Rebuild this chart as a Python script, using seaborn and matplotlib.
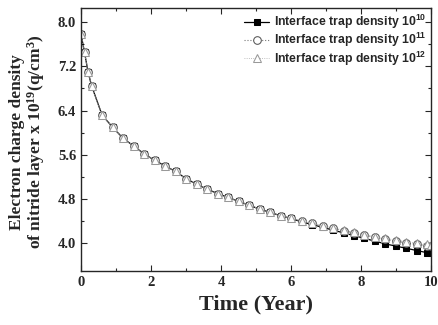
import pandas as pd
import numpy as np
import seaborn as sns
import matplotlib.pyplot as plt

# 데이터
time_year = [0, 0.1, 0.2, 0.3, 0.6, 0.9, 1.2, 1.5, 1.8, 2.1, 2.4, 2.7, 3.0, 3.3,
             3.6, 3.9, 4.2, 4.5, 4.8, 5.1, 5.4, 5.7, 6.0, 6.3, 6.6, 6.9, 7.2,
             7.5, 7.8, 8.1, 8.4, 8.7, 9.0, 9.3, 9.6, 9.9, 10.0]
density_1e10 = [7.78, 7.45, 7.10, 6.85, 6.32, 6.10, 5.90, 5.76, 5.62, 5.50, 5.40,
                5.30, 5.17, 5.07, 4.98, 4.90, 4.83, 4.76, 4.69, 4.62, 4.56, 4.50,
                4.45, 4.39, 4.34, 4.29, 4.24, 4.19, 4.14, 4.09, 4.04, 3.99, 3.95,
                3.91, 3.87, 3.83, 3.82]
density_1e11 = [7.78, 7.45, 7.10, 6.85, 6.32, 6.10, 5.90, 5.76, 5.62, 5.50, 5.40,
                5.30, 5.17, 5.07, 4.98, 4.90, 4.83, 4.76, 4.69, 4.62, 4.56, 4.50,
                4.45, 4.40, 4.36, 4.31, 4.27, 4.23, 4.19, 4.15, 4.11, 4.07, 4.04,
                4.01, 3.98, 3.96, 3.95]
density_1e12 = [7.78, 7.45, 7.10, 6.85, 6.32, 6.10, 5.90, 5.76, 5.62, 5.50, 5.40,
                5.30, 5.17, 5.07, 4.98, 4.90, 4.83, 4.76, 4.69, 4.62, 4.56, 4.50,
                4.46, 4.41, 4.37, 4.32, 4.28, 4.24, 4.20, 4.16, 4.12, 4.09, 4.06,
                4.03, 4.00, 3.98, 3.97]
labels = ['Interface trap density 10$^{10}$',
          'Interface trap density 10$^{11}$',
          'Interface trap density 10$^{12}$']

sns.set_style('ticks')
plt.rcParams['mathtext.default'] = 'regular'

fig = plt.figure(figsize=(4.38, 3.25), dpi=100)
ax = fig.add_axes([0.185, 0.166, 0.799, 0.809])

# 곡선 그리기
sns.lineplot(x=time_year, y=density_1e10, ax=ax, color='black', lw=0.9,
             marker='s', markersize=5, markerfacecolor='black',
             markeredgecolor='black', label=labels[0])
sns.lineplot(x=time_year, y=density_1e11, ax=ax, color='#777777', lw=0.8,
             linestyle=':', marker='o', markersize=5.5, markerfacecolor='white',
             markeredgecolor='#555555', label=labels[1])
sns.lineplot(x=time_year, y=density_1e12, ax=ax, color='#aaaaaa', lw=0.6,
             linestyle=':', marker='^', markersize=5.5, markerfacecolor='white',
             markeredgecolor='#999999', label=labels[2])

ax.set_xlim(0, 10)
ax.set_ylim(3.5, 8.25)
ax.set_xticks([0, 2, 4, 6, 8, 10])
ax.set_xticks([1, 3, 5, 7, 9], minor=True)
ax.set_yticks([4.0, 4.8, 5.6, 6.4, 7.2, 8.0])
ax.set_yticks([4.4, 5.2, 6.0, 6.8, 7.6], minor=True)
ax.set_yticklabels(['4.0', '4.8', '5.6', '6.4', '7.2', '8.0'])
ax.tick_params(which='both', direction='in', top=True, right=True, width=0.8)
ax.tick_params(which='major', length=4)
ax.tick_params(which='minor', length=2)
for lab in ax.get_xticklabels() + ax.get_yticklabels():
    lab.set_fontfamily('Liberation Serif')
    lab.set_fontweight('bold')
    lab.set_fontsize(10.5)
for sp in ax.spines.values():
    sp.set_linewidth(1.0)

ax.set_xlabel('Time (Year)', family='Liberation Serif', weight='bold', fontsize=16)
ax.set_ylabel('Electron charge density\nof nitride layer x 10$^{19}$(q/cm$^{3}$)',
              family='Liberation Serif', weight='bold', fontsize=12.5, linespacing=1.0)
ax.yaxis.set_label_coords(-0.097, 0.49)

leg = ax.legend(loc='upper right', frameon=False, handlelength=2.0,
                handletextpad=0.4, labelspacing=0.0, borderaxespad=0.0,
                prop={'family': 'Liberation Sans', 'weight': 'bold', 'size': 8.8})

plt.savefig('out.png', dpi=100)
